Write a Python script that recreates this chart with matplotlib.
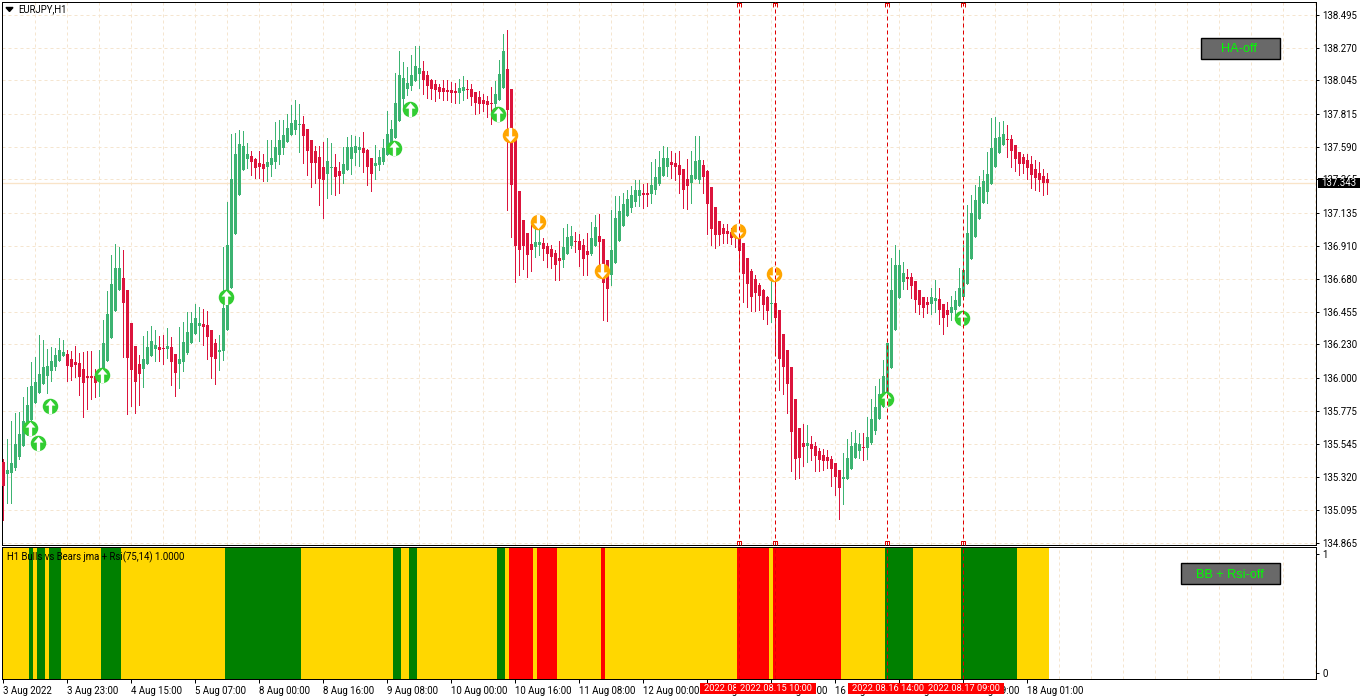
import matplotlib
matplotlib.use("Agg")
import matplotlib.pyplot as plt
from matplotlib.patches import Rectangle
from matplotlib.path import Path
from matplotlib.transforms import blended_transform_factory

plt.rcParams["font.family"] = ["Roboto", "DejaVu Sans"]

# hourly EURJPY candles
opens = [
    135.422, 135.340, 135.347, 135.381, 135.456, 135.532, 135.621, 135.710, 135.827, 135.896,
    135.958, 136.013, 136.047, 136.075, 136.116, 136.151, 136.164, 136.130, 136.109, 136.102,
    136.061, 136.013, 136.013, 136.013, 135.979, 136.020, 136.116, 136.274, 136.460, 136.604,
    136.687, 136.604, 136.377, 136.219, 136.095, 136.061, 136.095, 136.151, 136.199, 136.212,
    136.206, 136.199, 136.212, 136.164, 136.095, 136.109, 136.171, 136.240, 136.302, 136.357,
    136.370, 136.364, 136.329, 136.240, 136.178, 136.185, 136.329, 136.618, 136.989, 137.257,
    137.429, 137.505, 137.525, 137.505, 137.477, 137.470, 137.450, 137.463, 137.484, 137.532,
    137.581, 137.622, 137.670, 137.704, 137.739, 137.746, 137.711, 137.635, 137.560, 137.519,
    137.450, 137.402, 137.443, 137.450, 137.422, 137.402, 137.429, 137.505, 137.546, 137.567,
    137.581, 137.567, 137.512, 137.457, 137.463, 137.484, 137.532, 137.553, 137.649, 137.766,
    137.917, 137.986, 138.007, 138.041, 138.089, 138.110, 138.082, 138.048, 138.021, 138.000,
    137.993, 137.979, 137.979, 137.972, 137.959, 137.972, 137.986, 137.986, 137.966, 137.931,
    137.910, 137.904, 137.890, 137.883, 137.910, 137.993, 138.124, 137.986, 137.635, 137.285,
    137.085, 136.996, 136.920, 136.900, 136.914, 136.927, 136.907, 136.886, 136.859, 136.824,
    136.810, 136.852, 136.907, 136.941, 136.941, 136.914, 136.872, 136.852, 136.907, 136.976,
    136.955, 136.810, 136.707, 136.790, 136.941, 137.044, 137.113, 137.168, 137.209, 137.250,
    137.271, 137.271, 137.264, 137.292, 137.333, 137.388, 137.450, 137.484, 137.477, 137.463,
    137.436, 137.367, 137.340, 137.367, 137.360, 137.463, 137.422, 137.312, 137.175, 137.078,
    137.031, 137.010, 137.003, 136.996, 136.982, 136.927, 136.824, 136.735, 136.680, 136.639,
    136.604, 136.556, 136.508, 136.515, 136.467, 136.302, 136.192, 136.075, 135.855, 135.655,
    135.552, 135.532, 135.545, 135.532, 135.497, 135.470, 135.456, 135.442, 135.415, 135.367,
    135.305, 135.305, 135.374, 135.449, 135.497, 135.525, 135.518, 135.552, 135.635, 135.717,
    135.800, 135.903, 136.068, 136.329, 136.549, 136.659, 136.694, 136.694, 136.666, 136.604,
    136.556, 136.522, 136.508, 136.529, 136.542, 136.508, 136.467, 136.446, 136.467, 136.494,
    136.556, 136.645, 136.817, 136.969, 137.092, 137.202, 137.278, 137.333, 137.450, 137.546,
    137.601, 137.642, 137.642, 137.601, 137.553, 137.519, 137.498, 137.470, 137.436, 137.409,
    137.388, 137.367,
]
highs = [
    135.442, 135.580, 135.703, 135.758, 135.765, 135.869, 135.937, 136.109, 136.144, 136.295,
    136.260, 136.199, 136.212, 136.206, 136.274, 136.260, 136.192, 136.185, 136.219, 136.171,
    136.178, 136.185, 136.185, 136.061, 136.192, 136.398, 136.597, 136.845, 136.920, 136.900,
    136.879, 136.604, 136.377, 136.219, 136.157, 136.288, 136.322, 136.357, 136.329, 136.288,
    136.295, 136.343, 136.281, 136.164, 136.350, 136.384, 136.453, 136.453, 136.508, 136.487,
    136.474, 136.460, 136.329, 136.267, 136.295, 136.900, 137.209, 137.677, 137.684, 137.704,
    137.697, 137.615, 137.560, 137.512, 137.560, 137.539, 137.635, 137.635, 137.759, 137.773,
    137.773, 137.814, 137.876, 137.910, 137.883, 137.800, 137.711, 137.635, 137.594, 137.594,
    137.622, 137.649, 137.615, 137.539, 137.484, 137.587, 137.656, 137.670, 137.663, 137.656,
    137.690, 137.574, 137.512, 137.601, 137.567, 137.642, 137.835, 137.773, 138.096, 138.247,
    138.172, 138.137, 138.220, 138.282, 138.282, 138.179, 138.110, 138.055, 138.048, 138.021,
    138.048, 138.048, 138.034, 138.027, 138.055, 138.076, 138.048, 138.021, 137.966, 137.972,
    137.952, 137.938, 138.000, 138.041, 138.186, 138.364, 138.392, 137.986, 137.635, 137.285,
    137.085, 136.996, 137.051, 137.106, 137.031, 136.962, 136.927, 136.914, 136.879, 136.941,
    137.031, 137.058, 137.044, 137.003, 136.989, 136.955, 136.996, 137.072, 137.120, 137.127,
    136.955, 136.810, 137.154, 137.250, 137.250, 137.271, 137.292, 137.319, 137.360, 137.360,
    137.333, 137.340, 137.484, 137.505, 137.560, 137.594, 137.587, 137.560, 137.546, 137.560,
    137.436, 137.505, 137.560, 137.663, 137.663, 137.498, 137.429, 137.312, 137.175, 137.078,
    137.058, 137.058, 137.031, 137.044, 137.017, 136.927, 136.824, 136.749, 136.707, 136.652,
    136.611, 136.563, 136.673, 136.673, 136.467, 136.302, 136.192, 136.075, 135.855, 135.655,
    135.683, 135.676, 135.600, 135.559, 135.518, 135.511, 135.504, 135.463, 135.415, 135.367,
    135.484, 135.580, 135.628, 135.642, 135.621, 135.621, 135.731, 135.855, 135.944, 135.992,
    136.123, 136.240, 136.824, 136.914, 136.879, 136.797, 136.749, 136.721, 136.666, 136.604,
    136.556, 136.556, 136.618, 136.673, 136.618, 136.508, 136.522, 136.563, 136.597, 136.755,
    136.914, 137.189, 137.257, 137.326, 137.388, 137.429, 137.553, 137.787, 137.794, 137.759,
    137.766, 137.739, 137.670, 137.601, 137.553, 137.539, 137.539, 137.525, 137.498, 137.484,
    137.436, 137.409,
]
lows = [
    135.023, 135.139, 135.139, 135.367, 135.442, 135.532, 135.607, 135.710, 135.827, 135.896,
    135.958, 135.896, 135.979, 136.054, 136.116, 136.151, 135.979, 135.985, 136.006, 135.882,
    135.731, 135.786, 135.855, 135.869, 135.876, 136.020, 136.116, 136.274, 136.460, 136.604,
    136.144, 135.752, 135.807, 135.758, 135.813, 135.937, 136.095, 136.151, 136.116, 136.116,
    136.095, 136.137, 135.951, 135.876, 135.931, 136.047, 136.164, 136.240, 136.302, 136.253,
    136.226, 136.130, 135.999, 135.958, 136.054, 136.123, 136.329, 136.618, 136.989, 137.257,
    137.429, 137.443, 137.395, 137.374, 137.374, 137.354, 137.354, 137.388, 137.443, 137.470,
    137.539, 137.622, 137.670, 137.677, 137.553, 137.477, 137.395, 137.312, 137.340, 137.189,
    137.099, 137.237, 137.264, 137.257, 137.271, 137.340, 137.429, 137.402, 137.463, 137.457,
    137.415, 137.326, 137.285, 137.367, 137.429, 137.470, 137.532, 137.553, 137.649, 137.766,
    137.855, 137.945, 137.979, 138.041, 137.993, 137.952, 137.924, 137.917, 137.904, 137.924,
    137.910, 137.910, 137.897, 137.890, 137.890, 137.910, 137.924, 137.876, 137.814, 137.821,
    137.835, 137.794, 137.746, 137.842, 137.910, 137.993, 137.154, 136.969, 136.659, 136.707,
    136.749, 136.694, 136.735, 136.831, 136.845, 136.810, 136.762, 136.755, 136.673, 136.673,
    136.762, 136.852, 136.893, 136.866, 136.769, 136.707, 136.707, 136.845, 136.907, 136.742,
    136.398, 136.391, 136.639, 136.790, 136.941, 137.044, 137.113, 137.141, 137.182, 137.182,
    137.168, 137.182, 137.202, 137.264, 137.326, 137.388, 137.388, 137.374, 137.360, 137.271,
    137.168, 137.161, 137.202, 137.367, 137.340, 137.271, 136.989, 136.914, 136.893, 136.914,
    136.927, 136.927, 136.920, 136.900, 136.742, 136.522, 136.487, 136.460, 136.460, 136.467,
    136.405, 136.370, 136.384, 136.164, 135.917, 135.889, 135.758, 135.360, 135.305, 135.312,
    135.394, 135.422, 135.435, 135.360, 135.360, 135.367, 135.381, 135.257, 135.195, 135.030,
    135.133, 135.305, 135.374, 135.449, 135.449, 135.435, 135.442, 135.545, 135.614, 135.717,
    135.800, 135.903, 136.068, 136.329, 136.549, 136.611, 136.611, 136.549, 136.453, 136.439,
    136.419, 136.446, 136.439, 136.453, 136.370, 136.302, 136.357, 136.398, 136.398, 136.494,
    136.556, 136.645, 136.817, 136.969, 137.092, 137.202, 137.202, 137.333, 137.450, 137.546,
    137.601, 137.519, 137.450, 137.422, 137.395, 137.409, 137.367, 137.306, 137.292, 137.285,
    137.257, 137.264,
]
closes = [
    135.257, 135.367, 135.415, 135.545, 135.614, 135.703, 135.813, 135.944, 135.972, 136.027,
    136.075, 136.082, 136.116, 136.157, 136.192, 136.178, 136.082, 136.075, 136.089, 136.006,
    135.965, 135.999, 135.999, 135.965, 136.034, 136.240, 136.439, 136.645, 136.755, 136.755,
    136.515, 136.137, 136.054, 135.972, 136.027, 136.130, 136.212, 136.253, 136.226, 136.192,
    136.199, 136.219, 136.109, 136.034, 136.130, 136.247, 136.315, 136.377, 136.412, 136.377,
    136.350, 136.281, 136.144, 136.130, 136.192, 136.481, 136.914, 137.367, 137.539, 137.608,
    137.594, 137.539, 137.484, 137.443, 137.450, 137.436, 137.484, 137.512, 137.587, 137.635,
    137.670, 137.718, 137.752, 137.773, 137.746, 137.663, 137.560, 137.477, 137.477, 137.367,
    137.360, 137.491, 137.450, 137.381, 137.388, 137.470, 137.587, 137.587, 137.594, 137.587,
    137.546, 137.450, 137.402, 137.477, 137.519, 137.581, 137.677, 137.711, 137.890, 138.082,
    138.062, 138.027, 138.082, 138.144, 138.130, 138.048, 138.007, 137.986, 137.979, 137.966,
    137.966, 137.966, 137.959, 137.959, 137.993, 138.000, 137.979, 137.931, 137.890, 137.883,
    137.883, 137.876, 137.883, 137.952, 138.089, 138.247, 137.842, 137.326, 136.907, 136.879,
    136.907, 136.845, 136.879, 136.934, 136.934, 136.886, 136.852, 136.831, 136.776, 136.804,
    136.900, 136.969, 136.976, 136.934, 136.879, 136.817, 136.845, 136.962, 137.037, 136.934,
    136.652, 136.611, 136.879, 137.099, 137.147, 137.195, 137.230, 137.257, 137.292, 137.292,
    137.257, 137.257, 137.326, 137.381, 137.450, 137.512, 137.512, 137.463, 137.450, 137.395,
    137.292, 137.319, 137.395, 137.491, 137.498, 137.381, 137.195, 137.024, 136.982, 136.982,
    136.989, 136.989, 136.962, 136.962, 136.872, 136.714, 136.645, 136.556, 136.584, 136.563,
    136.501, 136.460, 136.515, 136.412, 136.130, 136.075, 135.958, 135.628, 135.442, 135.449,
    135.525, 135.552, 135.511, 135.463, 135.435, 135.429, 135.429, 135.374, 135.319, 135.243,
    135.319, 135.449, 135.532, 135.552, 135.545, 135.518, 135.594, 135.717, 135.800, 135.889,
    136.013, 136.240, 136.604, 136.776, 136.776, 136.721, 136.680, 136.632, 136.535, 136.501,
    136.481, 136.501, 136.556, 136.549, 136.467, 136.412, 136.432, 136.487, 136.535, 136.618,
    136.742, 136.996, 137.134, 137.223, 137.312, 137.354, 137.402, 137.581, 137.649, 137.656,
    137.677, 137.635, 137.560, 137.505, 137.470, 137.470, 137.443, 137.395, 137.374, 137.360,
    137.340, 137.343,
]
last_price = "137.343"

# buy / sell signal arrows (candle number and price)
buy_bars = [7, 9, 12, 25, 56, 98, 102, 124, 221, 240]
buy_prices = [135.655, 135.552, 135.807, 136.020, 136.556, 137.581, 137.849, 137.814, 135.855, 136.412]
sell_bars = [127, 134, 150, 184, 193]
sell_prices = [137.670, 137.072, 136.735, 137.010, 136.714]

# indicator pane: state and how many candles it lasts
state_names = ["y", "g", "y", "g", "y", "g", "y", "g", "y", "g", "y", "g", "y", "g", "y", "g", "y",
               "r", "y", "r", "y", "r", "y", "r", "y", "r", "y", "g", "y", "g", "y"]
state_runs = [7, 1, 1, 2, 1, 3, 10, 5, 26, 19, 23, 2, 2, 2, 20, 2, 1,
              6, 1, 5, 11, 1, 33, 8, 1, 17, 11, 7, 12, 14, 8]

# dated vertical lines
vline_bars = [184, 193, 221, 240]
vline_labels = ["2022.08.15 01:00", "2022.08.15 10:00", "2022.08.16 14:00", "2022.08.17 09:00"]

price_ticks = [138.495, 138.270, 138.045, 137.815, 137.590, 137.365, 137.135, 136.910, 136.680,
               136.455, 136.230, 136.000, 135.775, 135.545, 135.320, 135.095, 134.865]
time_labels = ["3 Aug 2022", "3 Aug 23:00", "4 Aug 15:00", "5 Aug 07:00", "8 Aug 00:00", "8 Aug 16:00",
               "9 Aug 08:00", "10 Aug 00:00", "10 Aug 16:00", "11 Aug 08:00", "12 Aug 00:00", "12 Aug 16:00",
               "15 Aug 09:00", "16 Aug 01:00", "16 Aug 17:00", "17 Aug 09:00", "18 Aug 01:00"]

W, H = 1362, 700
BULL = "#3CB371"
BEAR = "#DC143C"
GRID = "#F5E5CF"
STATE_COLORS = {"y": "#FFD700", "g": "#008000", "r": "#FF0000"}
PX = 72 / 100  # one pixel in points
BAR0 = 3.2  # pixel of candle 0, off the half pixel so that snapping stays steady


def box(left, top, right, bottom):
    """Axes rectangle from pixel edges, y counted from the top."""
    return [left / W, 1 - bottom / H, (right - left) / W, (bottom - top) / H]


def fig_x(x):
    return x / W


def fig_y(y):
    return 1 - y / H


def add_button(fig, left, top, right, bottom, label):
    fig.add_artist(Rectangle((fig_x(left), fig_y(bottom)), (right - left) / W, (bottom - top) / H,
                             transform=fig.transFigure, facecolor="#696969", edgecolor="black",
                             linewidth=1.0, zorder=5))
    fig.text(fig_x((left + right) / 2 - 1), fig_y((top + bottom) / 2 + 1), label, color="#00FF00", fontsize=9.2,
             family="Liberation Sans", ha="center", va="center", zorder=6)


def arrow_path(up=True):
    pts = [(-0.11, -0.5), (-0.11, 0.06), (-0.33, 0.06), (0, 0.44), (0.33, 0.06), (0.11, 0.06), (0.11, -0.5), (-0.11, -0.5)]
    if not up:
        pts = [(x, -y) for x, y in pts]
    return Path(pts, closed=True)


def bracket_path():
    return Path([(-1, -1), (-1, 1), (1, 1), (1, -1)])


fig = plt.figure(figsize=(W / 100, H / 100), dpi=100, facecolor="white")
ax = fig.add_axes(box(2, 2, 1316, 545))
sub = fig.add_axes(box(2, 547, 1316, 679))

x_limits = ((2 - BAR0) / 4, (1316 - BAR0) / 4)
per_px = (138.495 - 134.865) / 528
ax.set_xlim(*x_limits)
ax.set_ylim(138.495 - 530 * per_px, 138.495 + 13 * per_px)
sub.set_xlim(*x_limits)
sub.set_ylim(-0.05, 1.06)

bars = list(range(len(closes)))
colors = [BULL if c >= o else BEAR for o, c in zip(opens, closes)]
body_bottom = [min(o, c) for o, c in zip(opens, closes)]
body_size = [max(abs(c - o), per_px) for o, c in zip(opens, closes)]

grid_bars = list(range(8, 329, 8))
for a in (ax, sub):
    a.vlines(grid_bars, 0, 1, transform=a.get_xaxis_transform(), colors=GRID, linewidth=1 * PX,
             linestyles=(0, (3, 3)), zorder=0)
ax.hlines(price_ticks, 0, 1, transform=ax.get_yaxis_transform(), colors=GRID, linewidth=1 * PX,
          linestyles=(0, (3, 3)), zorder=0)
ax.axhline(float(last_price), color="#F9E4C8", linewidth=1.3 * PX, zorder=0.5)

ax.vlines(bars, lows, highs, colors=colors, linewidth=1 * PX, antialiased=False, zorder=2)
ax.bar(bars, body_size, width=0.75, bottom=body_bottom, color=colors, linewidth=0, antialiased=False, zorder=3)

# signal arrows sit one pixel left of their candle
buy_x = [b - 0.25 for b in buy_bars]
sell_x = [b - 0.25 for b in sell_bars]
ax.scatter(buy_x, buy_prices, s=(15.5 * PX) ** 2, color="#32CD32", linewidth=0, zorder=4)
ax.scatter(buy_x, buy_prices, s=(15 * PX) ** 2, marker=arrow_path(True), color="white", linewidth=0, zorder=5)
ax.scatter(sell_x, sell_prices, s=(15.5 * PX) ** 2, color="#FFA500", linewidth=0, zorder=4)
ax.scatter(sell_x, sell_prices, s=(15 * PX) ** 2, marker=arrow_path(False), color="white", linewidth=0, zorder=5)

# indicator strip fills the pane
state_bars = []
state_colors = []
n = 0
for name, run in zip(state_names, state_runs):
    for _ in range(run):
        state_bars.append(n)
        state_colors.append(STATE_COLORS[name])
        n += 1
sub.bar(state_bars, [1.11] * len(state_bars), width=1.0, bottom=-0.05, color=state_colors,
        linewidth=0, antialiased=False, zorder=2)

# vertical lines with their small caps
for a in (ax, sub):
    a.vlines(vline_bars, 0, 1, transform=a.get_xaxis_transform(), colors="#E00000", linewidth=1 * PX,
             linestyles=(0, (4, 3)), zorder=6)
trans = blended_transform_factory(ax.transData, ax.transAxes)
for bar in vline_bars:
    for frac in (0.9945, 0.0045):
        ax.plot([bar], [frac], transform=trans, marker=bracket_path(), markersize=5 * PX,
                markerfacecolor="none", markeredgecolor="#E00000", markeredgewidth=1 * PX,
                linestyle="none", clip_on=False, zorder=6)

for a in (ax, sub):
    for spine in a.spines.values():
        spine.set_linewidth(1 * PX)
        spine.set_color("black")
    a.patch.set_alpha(0)

ax.yaxis.tick_right()
ax.set_yticks(price_ticks)
ax.set_yticklabels([f"{p:.3f}" for p in price_ticks])
ax.set_xticks([])
ax.tick_params(axis="y", length=3 * PX, width=1 * PX, pad=2.2, labelsize=6.9)

sub.yaxis.tick_right()
sub.set_yticks([0, 1])
sub.set_yticklabels(["0", "1"])
sub.tick_params(axis="y", length=3 * PX, width=1 * PX, pad=2.2, labelsize=6.9)
sub.set_xticks(list(range(0, 16 * len(time_labels), 16)))
sub.set_xticklabels(time_labels, ha="left")
sub.tick_params(axis="x", length=4 * PX, width=1 * PX, pad=2, labelsize=6.9)

# titles inside the panes
fig.text(fig_x(18), fig_y(9), "EURJPY,H1", fontsize=6.9, color="black", ha="left", va="center", zorder=6)
fig.add_artist(plt.Polygon([[fig_x(6), fig_y(7.5)], [fig_x(13), fig_y(7.5)], [fig_x(9.5), fig_y(11.5)]],
                           closed=True, transform=fig.transFigure, color="black", zorder=6))
fig.text(fig_x(7), fig_y(557), "H1 Bulls vs Bears jma + Rsi(75,14) 1.0000", fontsize=6.9, color="black",
         ha="left", va="center", zorder=6)

add_button(fig, 1201, 38, 1280, 59, "HA-off")
add_button(fig, 1181, 563, 1280, 584, "BB + Rsi-off")

# last price tag
fig.add_artist(Rectangle((fig_x(1318), fig_y(188)), 42 / W, 10 / H, transform=fig.transFigure,
                         facecolor="black", edgecolor="none", zorder=5))
fig.text(fig_x(1321), fig_y(183), last_price, fontsize=6.9, color="white", ha="left", va="center", zorder=6)

# red time tags, each centred on its line and drawn over the one before
for k, (bar, label) in enumerate(zip(vline_bars, vline_labels)):
    cx = 3.5 + 4 * bar
    fig.add_artist(Rectangle((fig_x(cx - 40), fig_y(694)), 80 / W, 11 / H, transform=fig.transFigure,
                             facecolor="#FF0000", edgecolor="none", zorder=7 + 2 * k))
    fig.text(fig_x(cx), fig_y(688.5), label, fontsize=6.7, color="white", ha="center", va="center", zorder=8 + 2 * k)

fig.savefig("out.png", dpi=100)
